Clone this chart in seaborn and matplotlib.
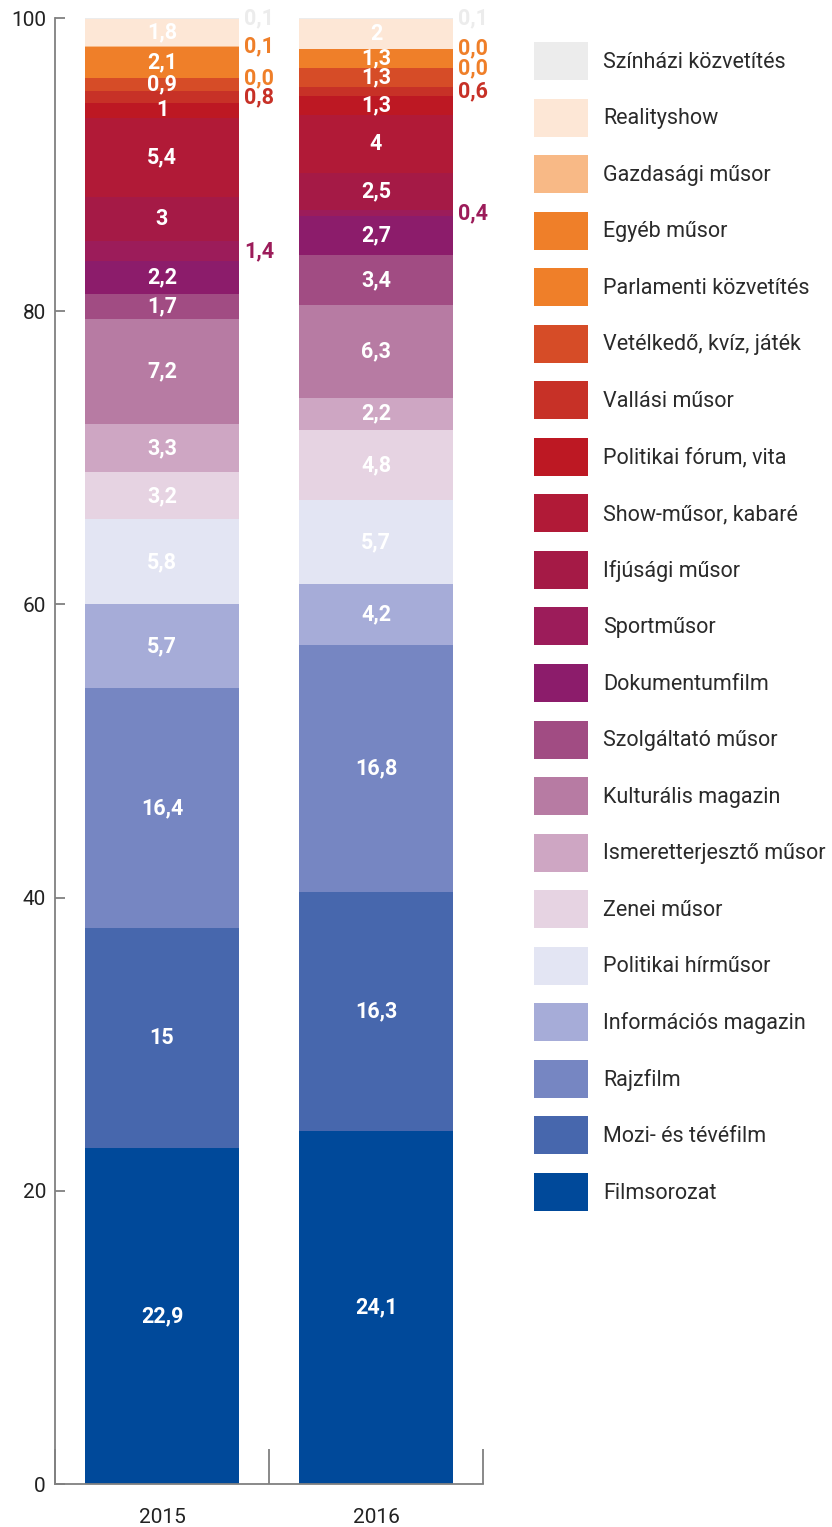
import matplotlib
matplotlib.use("Agg")
import matplotlib.pyplot as plt
from matplotlib.patches import Patch
import seaborn as sns

# Programme-type shares (%) per year, stacked from the bottom up
years = ["2015", "2016"]
categories = [
    "Filmsorozat",
    "Mozi- és tévéfilm",
    "Rajzfilm",
    "Információs magazin",
    "Politikai hírműsor",
    "Zenei műsor",
    "Ismeretterjesztő műsor",
    "Kulturális magazin",
    "Szolgáltató műsor",
    "Dokumentumfilm",
    "Sportműsor",
    "Ifjúsági műsor",
    "Show-műsor, kabaré",
    "Politikai fórum, vita",
    "Vallási műsor",
    "Vetélkedő, kvíz, játék",
    "Parlamenti közvetítés",
    "Egyéb műsor",
    "Gazdasági műsor",
    "Realityshow",
    "Színházi közvetítés",
]
share_2015 = [22.9, 15, 16.4, 5.7, 5.8, 3.2, 3.3, 7.2, 1.7, 2.2, 1.4,
              3, 5.4, 1, 0.8, 0.9, 0.0, 2.1, 0.1, 1.8, 0.1]
share_2016 = [24.1, 16.3, 16.8, 4.2, 5.7, 4.8, 2.2, 6.3, 3.4, 2.7, 0.4,
              2.5, 4, 1.3, 0.6, 1.3, 0.0, 1.3, 0.0, 2, 0.1]

colors = [
    "#00499a", "#4767ad", "#7686c2", "#a6acd8", "#e3e5f3", "#e6d3e2",
    "#cea6c3", "#b77ba3", "#a14c83", "#8c1c6b", "#9c1c5a", "#a51a46",
    "#b11a37", "#bd1823", "#c73127", "#d64c27", "#ef7f29", "#ef7f29",
    "#f8b986", "#fde7d6", "#ececec",
]

# Thin segments whose value is printed beside the bar, with the text colour
outside_text_color = {
    "Sportműsor": "#9c1c5a",
    "Vallási műsor": "#c73127",
    "Parlamenti közvetítés": "#ef7f29",
    "Gazdasági műsor": "#ef7f29",
    "Színházi közvetítés": "#ececec",
}

sns.set_theme(style="white")
plt.rcParams["font.family"] = ["Roboto", "DejaVu Sans"]

W, H = 832, 1527
fig = plt.figure(figsize=(W / 100, H / 100), dpi=100)
ax = fig.add_axes([55 / W, 43 / H, 428 / W, 1466 / H])

bar_width = 0.716
series = {"2015": share_2015, "2016": share_2016}
bottoms = [0.0, 0.0]

for k, (cat, col) in enumerate(zip(categories, colors)):
    vals = [series[y][k] for y in years]
    sns.barplot(x=years, y=vals, bottom=bottoms, color=col, saturation=1,
                width=bar_width, errorbar=None, linewidth=0, order=years, ax=ax)
    for i, v in enumerate(vals):
        center = bottoms[i] + v / 2
        if cat in outside_text_color:
            txt = f"{v:.1f}".replace(".", ",")
            ax.text(i + bar_width / 2 + 0.027, center, txt, ha="left",
                    va="center", fontsize=15.5, fontweight="bold",
                    color=outside_text_color[cat])
        else:
            txt = f"{v:g}".replace(".", ",")
            ax.text(i, center, txt, ha="center", va="center",
                    fontsize=15.5, fontweight="bold", color="white")
    bottoms = [b + v for b, v in zip(bottoms, vals)]

ax.set_xlim(-0.5, 1.5)
ax.set_ylim(0, 100)
ax.set_xlabel("")
ax.set_ylabel("")

for side in ("top", "right"):
    ax.spines[side].set_visible(False)
for side in ("left", "bottom"):
    ax.spines[side].set_color("#808080")
    ax.spines[side].set_linewidth(1.3)

ax.set_yticks([0, 20, 40, 60, 80, 100])
ax.tick_params(axis="y", direction="in", length=7.5, width=1.3,
               color="#808080", pad=6.5, labelsize=15, labelcolor="#222222",
               left=True)

# Category separators as major ticks, year labels on minor ticks
ax.set_xticks([-0.5, 0.5, 1.5])
ax.set_xticklabels(["", "", ""])
ax.set_xticks([0, 1], minor=True)
ax.set_xticklabels(years, minor=True)
ax.tick_params(axis="x", which="major", direction="in", length=25, width=1.3,
               color="#808080", bottom=True)
ax.tick_params(axis="x", which="minor", length=0, pad=17, labelsize=15,
               labelcolor="#222222", bottom=True)

# Legend: swatch 54x38 px, rows 56.5 px apart
fs = 15.5
px = fs * 100 / 72
swatch_h = 38 / px
handleheight = (swatch_h - 0.245) / 0.65
handles = [Patch(facecolor=c, edgecolor="none") for c in colors][::-1]
fig.legend(handles, categories[::-1], loc="upper left",
           bbox_to_anchor=(534 / W, 1 - 42 / H), frameon=False,
           borderpad=0, borderaxespad=0, fontsize=fs,
           handlelength=54 / px, handleheight=handleheight,
           labelspacing=(56.55 - 38) / px, handletextpad=15 / px,
           labelcolor="#2a2a2a")

fig.savefig("out.png", dpi=100)
